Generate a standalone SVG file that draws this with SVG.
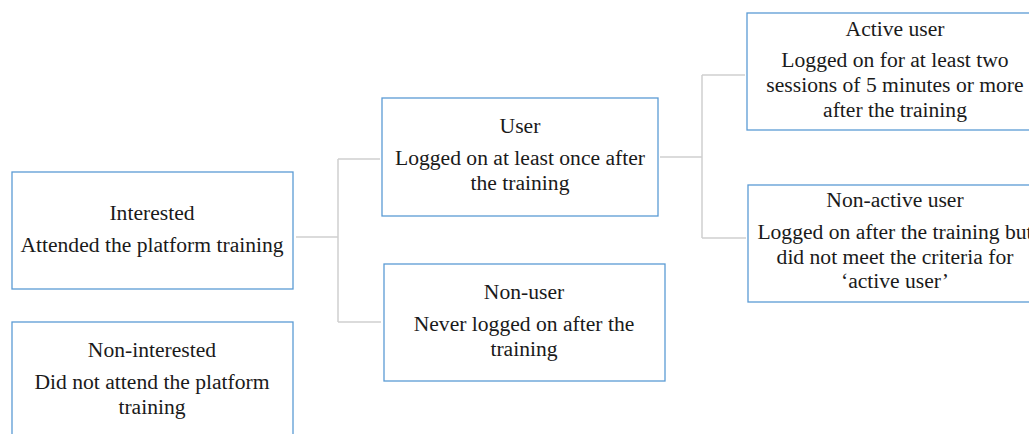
<svg xmlns="http://www.w3.org/2000/svg" width="1029" height="434" viewBox="0 0 1029 434">
<style>
.box{fill:#ffffff;stroke:#5b9bd5;stroke-width:1.3}
.conn{fill:none;stroke:#d0d0d0;stroke-width:1.5}
text{font-family:"Liberation Serif","Times New Roman",serif;font-size:21.6px;fill:#1a1a1a;text-anchor:middle}
</style>
<rect width="1029" height="434" fill="#ffffff"/>
<g id="connectors">
<path class="conn" d="M296,237 H338 M338,159 V322 M338,159 H380 M338,322 H381"/>
<path class="conn" d="M660,157 H702 M702,75 V238 M702,75 H745 M702,238 H746"/>
</g>
<g id="interested">
<rect class="box" x="12" y="172" width="281" height="117"/>
<text x="152" y="220">Interested</text>
<text x="152" y="252">Attended the platform training</text>
</g>
<g id="non-interested">
<rect class="box" x="12" y="322" width="281" height="130"/>
<text x="152" y="357">Non-interested</text>
<text x="152" y="389">Did not attend the platform</text>
<text x="152" y="414">training</text>
</g>
<g id="user">
<rect class="box" x="382" y="98" width="276" height="118"/>
<text x="520" y="133">User</text>
<text x="520" y="165">Logged on at least once after</text>
<text x="520" y="190">the training</text>
</g>
<g id="non-user">
<rect class="box" x="384" y="264" width="281" height="117"/>
<text x="524" y="299">Non-user</text>
<text x="524" y="331">Never logged on after the</text>
<text x="524" y="356">training</text>
</g>
<g id="active-user">
<rect class="box" x="747" y="13" width="296" height="117"/>
<text x="895" y="36">Active user</text>
<text x="895" y="67">Logged on for at least two</text>
<text x="895" y="92">sessions of 5 minutes or more</text>
<text x="895" y="117">after the training</text>
</g>
<g id="non-active-user">
<rect class="box" x="748" y="185" width="296" height="117"/>
<text x="895" y="207">Non-active user</text>
<text x="895" y="239">Logged on after the training but</text>
<text x="895" y="264">did not meet the criteria for</text>
<text x="895" y="288">‘active user’</text>
</g>
</svg>
